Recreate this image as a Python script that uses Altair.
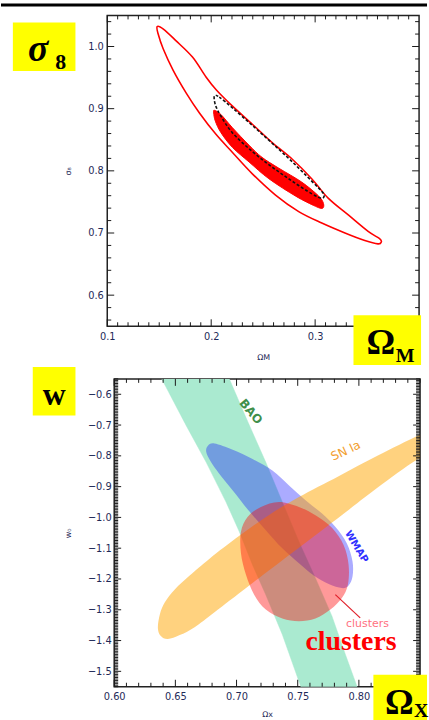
import altair as alt
import numpy as np
import pandas as pd

# ---------------- top panel: sigma_8 vs Omega_M ----------------
outer_om = [0.148, 0.154, 0.166, 0.182, 0.195, 0.205, 0.2205, 0.2396, 0.2587, 0.2778, 0.2969, 0.3128,
            0.3319, 0.351, 0.362, 0.3637, 0.3605, 0.3478, 0.3287, 0.3064, 0.2842, 0.2619, 0.2396, 0.2205,
            0.2046, 0.1887, 0.176, 0.1633, 0.1538, 0.149]
outer_s8 = [1.032, 1.028, 1.0095, 0.983, 0.951, 0.930, 0.904, 0.875, 0.8455, 0.819, 0.787, 0.7556,
            0.729, 0.7026, 0.691, 0.6857, 0.6825, 0.6878, 0.700, 0.716, 0.7344, 0.761, 0.7952, 0.8296,
            0.8587, 0.8931, 0.925, 0.962, 0.9963, 1.020]

fill_om = [0.2031, 0.2094, 0.2205, 0.2364, 0.2489, 0.2651, 0.287, 0.3032, 0.308, 0.3071, 0.3004, 0.2813,
           0.2555, 0.2364, 0.2205, 0.2094, 0.204, 0.2024]
fill_s8 = [0.8974, 0.8905, 0.8693, 0.8413, 0.8217, 0.8042, 0.782, 0.7598, 0.7476, 0.7397, 0.7429, 0.7593,
           0.7873, 0.8143, 0.8376, 0.8614, 0.8799, 0.8931]

dash_om = [0.2031, 0.2078, 0.2205, 0.2396, 0.2587, 0.2778, 0.2969, 0.308, 0.3064, 0.2969, 0.2778, 0.2587,
           0.2396, 0.2205, 0.2094, 0.204]
dash_s8 = [0.9206, 0.9185, 0.9011, 0.873, 0.8444, 0.8148, 0.7831, 0.7635, 0.7560, 0.7630, 0.7835, 0.8060,
           0.8310, 0.8610, 0.8880, 0.9063]

# ---------------- bottom panel: w0 vs Omega_X ----------------
bao_ox = [0.6363, 0.659, 0.6752, 0.6914, 0.7023, 0.7131, 0.7239, 0.7374, 0.7542,
          0.8002, 0.7889, 0.778, 0.7645, 0.751, 0.7374, 0.7239, 0.7077, 0.692]
bao_w = [-0.5306, -0.7027, -0.821, -0.95, -1.0468, -1.1543, -1.2511, -1.3801, -1.5683,
         -1.5683, -1.4446, -1.321, -1.1973, -1.079, -0.95, -0.821, -0.6758, -0.5306]

sn_ox = [0.63571, 0.63734, 0.64140, 0.64951, 0.66169, 0.67792, 0.70227, 0.72662, 0.75097, 0.78344, 0.81591,
         0.84838, 0.86461, 0.86461, 0.84675, 0.81591, 0.79156, 0.75097, 0.71039, 0.68198, 0.66575, 0.65357,
         0.64383, 0.63815]
sn_w = [-1.35968, -1.31452, -1.27581, -1.23387, -1.18871, -1.13387, -1.05968, -0.99194, -0.93387, -0.86613, -0.79839,
        -0.73387, -0.70484, -0.78548, -0.81452, -0.90161, -0.97581, -1.09839, -1.22097, -1.30806, -1.35645, -1.38226,
        -1.39516, -1.38548]

wmap_ox = [0.6766, 0.682, 0.6969, 0.7131, 0.7293, 0.7429, 0.7564, 0.7699, 0.7807, 0.7902, 0.7948, 0.7948,
           0.7916, 0.7861, 0.7753, 0.7631, 0.751, 0.7374, 0.7239, 0.7104, 0.6969, 0.686, 0.6785, 0.6752]
wmap_w = [-0.7672, -0.7597, -0.7801, -0.8102, -0.8478, -0.8962, -0.9446, -0.9876, -1.0306, -1.0844, -1.1435, -1.1919,
          -1.221, -1.2296, -1.2167, -1.1887, -1.1489, -1.1005, -1.0414, -0.9801, -0.9124, -0.8586, -0.8156, -0.7866]

cl_ox = [0.7347, 0.751, 0.7645, 0.778, 0.7875, 0.7916, 0.791, 0.7861, 0.7767, 0.7645, 0.751, 0.7374,
         0.7239, 0.7144, 0.7077, 0.7036, 0.7036, 0.709, 0.7199]
cl_w = [-0.95, -0.9661, -0.993, -1.0339, -1.0898, -1.1543, -1.2188, -1.2618, -1.2995, -1.3285, -1.3371, -1.3285,
        -1.2995, -1.2511, -1.1866, -1.1167, -1.0468, -0.9984, -0.9661]

# tick labels
top_x_major = [0.1, 0.2, 0.3]
top_y_major = [0.6, 0.7, 0.8, 0.9, 1.0]
bot_x_major = [0.60, 0.65, 0.70, 0.75, 0.80]
bot_y_major = [-0.6, -0.7, -0.8, -0.9, -1.0, -1.1, -1.2, -1.3, -1.4, -1.5]

# ---------------- layout / style ----------------
TX, TY, TW, TH = [0.1, 0.4], [0.55, 1.05], 314, 313
BX, BY, BW, BH = [0.6, 0.85], [-1.55, -0.55], 308, 310
LF = "'DejaVu Sans Condensed', 'Liberation Sans Narrow', 'DejaVu Sans', sans-serif"
SANS = "'DejaVu Sans', sans-serif"
SERIF = "'Liberation Serif', 'DejaVu Serif', serif"
LC = "#1f2a58"


def axis(values, fmt, title, lsize, lpad, tpad):
    return alt.Axis(values=values, format=fmt, title=title, ticks=False, tickSize=0, domain=False, grid=False,
                    labelFont=LF, labelFontSize=lsize, labelColor=LC, labelPadding=lpad,
                    labelFlush=False, labelOverlap=False,
                    titleFont=SANS, titleFontSize=8, titleFontWeight="normal", titleColor=LC, titlePadding=tpad)


class Panel:
    def __init__(self, xdom, ydom, w, h, xaxis, yaxis):
        self.xdom, self.ydom, self.w, self.h = xdom, ydom, w, h
        self.xs = alt.Scale(domain=xdom, nice=False, zero=False)
        self.ys = alt.Scale(domain=ydom, nice=False, zero=False)
        self.xa, self.ya = xaxis, yaxis

    def enc(self):
        return dict(x=alt.X("x:Q", scale=self.xs, axis=self.xa),
                    y=alt.Y("y:Q", scale=self.ys, axis=self.ya))

    def poly(self, xs, ys, interp, **style):
        df = pd.DataFrame({"x": xs, "y": ys, "i": list(range(len(xs)))})
        return alt.Chart(df).mark_line(interpolate=interp, clip=True, **style).encode(
            order=alt.Order("i:Q"), **self.enc())

    def rects(self, xs, x2s, ys, y2s, color):
        df = pd.DataFrame({"x": xs, "x2": x2s, "y": ys, "y2": y2s})
        return alt.Chart(df).mark_rect(color=color).encode(x2="x2:Q", y2="y2:Q", **self.enc())

    def segs(self, xs, ys, x2s, y2s, **style):
        df = pd.DataFrame({"x": xs, "x2": x2s, "y": ys, "y2": y2s})
        return alt.Chart(df).mark_rule(**style).encode(x2="x2:Q", y2="y2:Q", **self.enc())

    def texts(self, xs, ys, ts, **style):
        df = pd.DataFrame({"x": xs, "y": ys, "t": ts})
        return alt.Chart(df).mark_text(**style).encode(text="t:N", **self.enc())

    def ticks(self, xmaj, xmin, ymaj, ymin, lmaj, lmin_x, lmin_y):
        dx, dy = self.xdom, self.ydom
        xu = (dx[1] - dx[0]) / self.w
        yu = (dy[1] - dy[0]) / self.h
        X, X2, Y, Y2 = [], [], [], []
        for vals, L in ((xmaj, lmaj), (xmin, lmin_x)):
            for v in vals:
                for edge, sgn in ((dy[0], 1), (dy[1], -1)):
                    X.append(v); X2.append(v); Y.append(edge); Y2.append(edge + sgn * L * yu)
        for vals, L in ((ymaj, lmaj), (ymin, lmin_y)):
            for v in vals:
                for edge, sgn in ((dx[0], 1), (dx[1], -1)):
                    X.append(edge); X2.append(edge + sgn * L * xu); Y.append(v); Y2.append(v)
        return self.segs(X, Y, X2, Y2, color="#1a1a1a", strokeWidth=1)


def minor(a, b, step, major):
    vals = np.round(np.arange(a, b + step / 2, step), 4)
    ms = {round(m, 4) for m in major}
    return [float(v) for v in vals if round(float(v), 4) not in ms]


# ---------------- top panel ----------------
T = Panel(TX, TY, TW, TH, axis(top_x_major, ".1f", "ΩM", 11, 4, 12), axis(top_y_major, ".1f", "σ₈", 11, 4, 15))

top = alt.layer(
    T.poly(outer_om, outer_s8, "cardinal-closed", stroke="#ff0000", strokeWidth=1.6, fill="transparent"),
    T.poly(fill_om, fill_s8, "cardinal-closed", stroke="#ff0000", strokeWidth=1, fill="#ff0000"),
    T.poly(dash_om, dash_s8, "cardinal-closed", stroke="#111111", strokeWidth=1.6,
           strokeDash=[3, 2], fill="transparent"),
    T.ticks(top_x_major, minor(0.1, 0.4, 0.01, top_x_major + [0.4]),
            top_y_major, minor(0.56, 1.04, 0.02, top_y_major), 7, 4, 4),
    # black bar at the very top of the page
    T.rects([-0.00223], [0.40764], [1.06917], [1.06438], "#000000"),
    # yellow label boxes
    T.rects([0.0092, 0.3369], [0.0694, 0.4019], [1.0388, 0.5676], [0.9605, 0.4877], "#ffff00"),
    T.texts([0.03363], [0.97652], ["σ"], font=SERIF, fontSize=38, fontStyle="italic",
            fontWeight="bold", color="black", align="center", baseline="alphabetic"),
    T.texts([0.05511], [0.96374], ["8"], font=SERIF, fontSize=22, fontWeight="bold",
            color="black", align="center", baseline="alphabetic"),
    T.texts([0.3631], [0.50529], ["Ω"], font=SERIF, fontSize=36, fontWeight="bold",
            color="black", align="center", baseline="alphabetic"),
    T.texts([0.3865], [0.49251], ["M"], font=SERIF, fontSize=20, fontWeight="bold",
            color="black", align="center", baseline="alphabetic"),
).properties(width=TW, height=TH)

# ---------------- bottom panel ----------------
B = Panel(BX, BY, BW, BH, axis(bot_x_major, ".2f", "Ωx", 11, 4, 9), axis(bot_y_major, ".1f", "w₀", 11, 3, 15))

bottom = alt.layer(
    B.poly(bao_ox, bao_w, "linear-closed", fill="#aaead0", stroke="#aaead0", strokeWidth=0.5),
    B.poly(wmap_ox, wmap_w, "cardinal-closed", fill="#0000ff", fillOpacity=0.33, strokeWidth=0),
    B.poly(sn_ox, sn_w, "cardinal-closed", fill="#ffa500", fillOpacity=0.5, strokeWidth=0),
    B.poly(cl_ox, cl_w, "cardinal-closed", fill="#ff0000", fillOpacity=0.4, strokeWidth=0),
    B.ticks(bot_x_major, minor(0.6, 0.85, 0.01, bot_x_major),
            bot_y_major, minor(-1.55, -0.55, 0.005, bot_y_major), 7, 4, 4),
    B.texts([0.71177], [-0.65645], ["BAO"], font=SANS, fontSize=12, fontWeight="bold",
            color="#3f8f4a", angle=50, align="center", baseline="middle"),
    B.texts([0.78920], [-0.78323], ["SN Ia"], font=SANS, fontSize=12,
            color="#f2a030", angle=335, align="center", baseline="middle"),
    B.texts([0.79805], [-1.09516], ["WMAP"], font=SANS, fontSize=10, fontWeight="bold",
            color="#3030ff", angle=59, align="center", baseline="middle"),
    B.segs([0.78076], [-1.25097], [0.80106], [-1.32645], color="#e0202a", strokeWidth=1.2),
    B.texts([0.80698], [-1.35645], ["clusters"], font=SANS, fontSize=11,
            color="#ff7080", align="center", baseline="alphabetic"),
    B.texts([0.79359], [-1.43065], ["clusters"], font=SERIF, fontSize=28, fontWeight="bold",
            color="#ff0000", align="center", baseline="alphabetic"),
    B.rects([0.53344, 0.81185], [0.56834, 0.85568], [-0.51129, -1.51129], [-0.66935, -1.65968], "#ffff00"),
    B.texts([0.55089], [-0.63387], ["w"], font=SERIF, fontSize=32, fontWeight="bold",
            color="black", align="center", baseline="alphabetic"),
    B.texts([0.83296], [-1.63710], ["Ω"], font=SERIF, fontSize=36, fontWeight="bold",
            color="black", align="center", baseline="alphabetic"),
    B.texts([0.85081], [-1.64677], ["X"], font=SERIF, fontSize=20, fontWeight="bold",
            color="black", align="center", baseline="alphabetic"),
).properties(width=BW, height=BH)

spacer = alt.Chart(alt.Data(values=[{"a": 0}])).mark_point(opacity=0).properties(
    width=7, height=BH, view=alt.ViewBackground(strokeWidth=0))

chart = alt.vconcat(
    top,
    alt.hconcat(spacer, bottom, spacing=0, bounds="flush"),
    spacing=53,
    bounds="flush",
).properties(
    padding={"left": 0, "top": 0, "right": 0, "bottom": 0},
    background="white",
).configure_view(stroke="#222222", strokeWidth=1.5)

chart.save("out.html", embed_options={"renderer": "svg", "actions": False})
